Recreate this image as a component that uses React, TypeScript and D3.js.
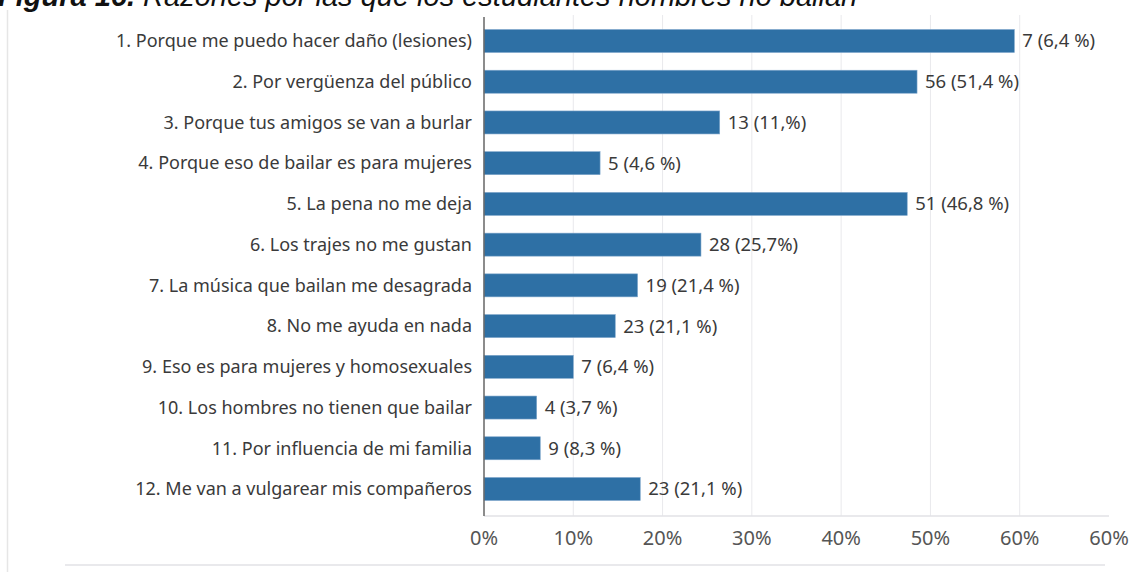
import React, { useEffect, useRef } from "react"
import * as d3 from "d3"

// razones (eje vertical)
const categories = [
  "1. Porque me puedo hacer daño (lesiones)",
  "2. Por vergüenza del público",
  "3. Porque tus amigos se van a burlar",
  "4. Porque eso de bailar es para mujeres",
  "5. La pena no me deja",
  "6. Los trajes no me gustan",
  "7. La música que bailan me desagrada",
  "8. No me ayuda en nada",
  "9. Eso es para mujeres y homosexuales",
  "10. Los hombres no tienen que bailar",
  "11. Por influencia de mi familia",
  "12. Me van a vulgarear mis compañeros",
]

// largo de cada barra (en % del eje)
const barValues = [59.4, 48.5, 26.4, 13.0, 47.4, 24.3, 17.2, 14.7, 10.0, 5.9, 6.3, 17.5]

// etiquetas tal como aparecen al final de cada barra
const valueLabels = [
  "7 (6,4 %)",
  "56 (51,4 %)",
  "13 (11,%)",
  "5 (4,6 %)",
  "51 (46,8 %)",
  "28 (25,7%)",
  "19 (21,4 %)",
  "23 (21,1 %)",
  "7 (6,4 %)",
  "4 (3,7 %)",
  "9 (8,3 %)",
  "23 (21,1 %)",
]

const tickValues = [0, 10, 20, 30, 40, 50, 60, 70]
const tickLabels = ["0%", "10%", "20%", "30%", "40%", "50%", "60%", "60%"]

const titleBold = "Figura 16."
const titleRest = " Razones por las que los estudiantes hombres no bailan"

const App = () => {
  const ref = useRef<SVGSVGElement>(null)

  useEffect(() => {
    const width = 1139
    const height = 572
    const svg = d3.select(ref.current)
    svg.selectAll("*").remove()
    svg.attr("width", width).attr("height", height)

    const font = "'Noto Sans', sans-serif"
    const plotTop = 15
    const plotBottom = 516

    const x = d3.scaleLinear().domain([0, 70]).range([484, 1109])
    const y = d3.scalePoint<string>().domain(categories).range([41, 489])
    const barH = 23

    svg.append("rect").attr("width", width).attr("height", height).attr("fill", "#fff")

    // marco tenue del panel
    svg.append("line")
      .attr("x1", 7.5).attr("x2", 7.5).attr("y1", 10).attr("y2", height)
      .attr("stroke", "#e6e6e6").attr("stroke-width", 1.5)

    // titulo (cortado arriba, como en la imagen)
    const title = svg.append("text")
      .attr("x", -2).attr("y", 6)
      .attr("font-family", "'Liberation Sans', Arial, sans-serif")
      .attr("font-size", 29).attr("font-style", "italic").attr("fill", "#111")
    title.append("tspan").attr("font-weight", "bold").text(titleBold)
    title.append("tspan").text(titleRest)

    // lineas de grilla
    svg.append("g")
      .selectAll("line")
      .data(tickValues.filter(t => t > 0 && t < 70))
      .join("line")
      .attr("x1", d => x(d)).attr("x2", d => x(d))
      .attr("y1", plotTop).attr("y2", plotBottom)
      .attr("stroke", "#e9e9ec").attr("stroke-width", 1)

    // eje inferior
    svg.append("line")
      .attr("x1", x(0)).attr("x2", x(70)).attr("y1", plotBottom).attr("y2", plotBottom)
      .attr("stroke", "#e2e2e6").attr("stroke-width", 1.5)

    svg.append("g")
      .selectAll("text")
      .data(tickValues)
      .join("text")
      .attr("x", d => x(d))
      .attr("y", 545)
      .attr("text-anchor", "middle")
      .attr("font-family", font).attr("font-size", 20).attr("fill", "#555")
      .text((d, i) => tickLabels[i])

    // barras
    svg.append("g")
      .selectAll("rect")
      .data(barValues)
      .join("rect")
      .attr("x", x(0))
      .attr("y", (d, i) => (y(categories[i]) as number) - barH / 2)
      .attr("width", d => x(d) - x(0))
      .attr("height", barH)
      .attr("fill", "#2e70a5")
      .attr("stroke", "#7ea6cb").attr("stroke-width", 0.6)

    // eje vertical
    svg.append("line")
      .attr("x1", x(0)).attr("x2", x(0)).attr("y1", 17).attr("y2", plotBottom)
      .attr("stroke", "#666").attr("stroke-width", 1.5)

    // nombres de categorias
    svg.append("g")
      .selectAll("text")
      .data(categories)
      .join("text")
      .attr("x", 472)
      .attr("y", d => y(d) as number)
      .attr("dy", "0.35em")
      .attr("text-anchor", "end")
      .attr("font-family", font).attr("font-size", 18).attr("fill", "#3a3a3a")
      .text(d => d)

    // valores
    svg.append("g")
      .selectAll("text")
      .data(valueLabels)
      .join("text")
      .attr("x", (d, i) => x(barValues[i]) + 8)
      .attr("y", (d, i) => y(categories[i]) as number)
      .attr("dy", "0.35em")
      .attr("font-family", font).attr("font-size", 18.5).attr("fill", "#3a3a3a")
      .text(d => d)

    // linea inferior del panel
    svg.append("line")
      .attr("x1", 65).attr("x2", 1105).attr("y1", 565).attr("y2", 565)
      .attr("stroke", "#e2e2e6").attr("stroke-width", 1.5)
  }, [])

  return (
    <div style={{ position: "absolute", left: 0, top: 0 }}>
      <svg ref={ref} style={{ display: "block" }}></svg>
    </div>
  )
}

export default App
